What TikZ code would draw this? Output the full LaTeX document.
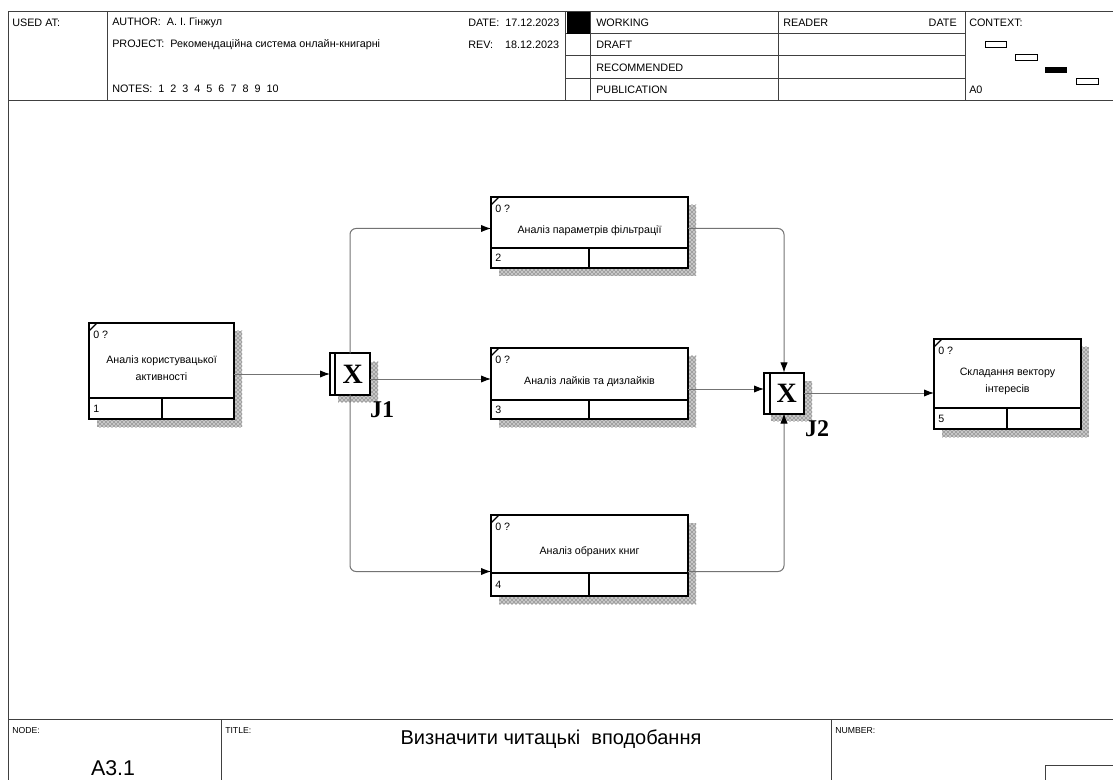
\documentclass[tikz,border=0pt]{standalone}
\usepackage{fontspec}
\setmainfont{Liberation Sans}
\newfontfamily\jfont{Liberation Serif}
\usetikzlibrary{arrows.meta,patterns,calc}

% one IDEF0 activity: name, x0, y0, x1, y1, row line, column line, number, text
\newcommand{\idefbox}[9]{%
  \fill[shade] (#2+8,#3+8) rectangle (#4+8,#5+8);
  \node[actbox,anchor=north west,minimum width={(#4-#2)*0.75pt},minimum height={(#5-#3)*0.75pt}] (#1) at (#2,#3) {};
  \draw[actline] (#2,#6) -- (#4,#6) (#7,#6) -- (#7,#5);
  \draw[line width=0.9pt] (#2,#3+8) -- (#2+8,#3);
  \node[small,anchor=west] (#1-c) at (#2+4,#3+12) {0 ?};
  \node[small,anchor=west] (#1-n) at (#2+4,{(#6+#5)/2}) {#8};
  \node[acttext] (#1-t) at ({(#2+#4)/2},{(#3+#6)/2+8}) {#9};
}

\begin{document}
\begin{tikzpicture}[x=0.75pt,y=-0.75pt,
  frame/.style={draw=black!75,line width=0.75pt},
  hdr/.style={font=\fontsize{8.1}{9.6}\selectfont,inner sep=0pt,anchor=west},
  tiny/.style={font=\fontsize{6.5}{7.5}\selectfont,inner sep=0pt,anchor=west},
  actbox/.style={draw,fill=white,line width=1.5pt,inner sep=0pt,outer sep=0pt},
  actline/.style={line width=1.5pt},
  small/.style={font=\fontsize{8}{9}\selectfont,inner sep=0pt},
  acttext/.style={font=\fontsize{8}{12.5}\selectfont,align=center,inner sep=0pt},
  shade/.style={preaction={fill=black!22},pattern=crosshatch dots,pattern color=black!85},
  junc/.style={draw,fill=white,line width=1.5pt,minimum width=30pt,minimum height=30.75pt,inner sep=0pt,outer sep=0pt,font=\jfont\bfseries\fontsize{21}{21}\selectfont},
  jlabel/.style={font=\jfont\bfseries\fontsize{18}{18}\selectfont,inner sep=0pt},
  flow/.style={draw=black!55,line width=0.75pt,rounded corners=4.5pt,-{Latex[black,length=7.5pt,width=5.5pt]}}
]
\useasboundingbox (0,0) rectangle (1113,780);

% header
\draw[frame] (8,780) -- (8,12) -- (1113,12);
\draw[frame] (8,101) -- (1113,101);
\draw[frame] (107,12) -- (107,101) (565,12) -- (565,101) (590,12) -- (590,101)
  (778,12) -- (778,101) (965,12) -- (965,101);
\draw[frame] (565,34) -- (965,34) (565,56) -- (965,56) (565,79) -- (965,79);
\fill (567,12) rectangle (590,34);
\node[hdr] (used) at (12,23) {USED AT:};
\node[hdr] (author) at (112,23) {AUTHOR:\ \ А. І. Гінжул};
\node[hdr] (project) at (112,45) {PROJECT:\ \ Рекомендаційна система онлайн-книгарні};
\node[hdr] (notes) at (112,89) {NOTES:\ \ 1\ \ 2\ \ 3\ \ 4\ \ 5\ \ 6\ \ 7\ \ 8\ \ 9\ \ 10};
\node[hdr] (date) at (468,23) {DATE:\ \ 17.12.2023};
\node[hdr] (rev) at (468,45) {REV:\ \ \ \ 18.12.2023};
\node[hdr] (working) at (596,23) {WORKING};
\node[hdr] (draft) at (596,45) {DRAFT};
\node[hdr] (recom) at (596,68) {RECOMMENDED};
\node[hdr] (publ) at (596,90) {PUBLICATION};
\node[hdr] (reader) at (783,23) {READER};
\node[hdr,anchor=east] (rdate) at (957,23) {DATE};
\node[hdr] (context) at (969,23) {CONTEXT:};
\node[hdr] (ctxnode) at (969,90) {A0};
\draw[line width=0.75pt] (985,42) rectangle (1006,48) (1015,55) rectangle (1037,61)
  (1076,79) rectangle (1098,85);
\fill (1045,67) rectangle (1067,73);

% activities
\idefbox{a1}{89}{323}{234}{419}{398}{162}{1}{Аналіз користувацької\\активності}
\idefbox{a2}{491}{197}{688}{268}{248}{589}{2}{Аналіз параметрів фільтрації}
\idefbox{a3}{491}{348}{688}{419}{400}{589}{3}{Аналіз лайків та дизлайків}
\idefbox{a4}{491}{515}{688}{596}{573}{589}{4}{Аналіз обраних книг}
\idefbox{a5}{934}{339}{1081}{429}{408}{1007}{5}{Складання вектору\\інтересів}

% junctions
\fill[shade] (338,362) rectangle (378,402);
\node[junc] (j1) at (350,374) {\hspace{4pt}X};
\draw[actline] ($(j1.north west)+(5,0)$) -- ($(j1.south west)+(5,0)$);
\node[jlabel] (j1l) at (382,410) {J1};
\fill[shade] (771,381) rectangle (812,421);
\node[junc] (j2) at (784,393) {\hspace{4pt}X};
\draw[actline] ($(j2.north west)+(6,0)$) -- ($(j2.south west)+(6,0)$);
\node[jlabel] (j2l) at (817,429) {J2};

% arrows
\draw[flow] (a1.east |- j1.west) -- (j1.west);
\draw[flow] ($(j1.east)+(0,5)$) coordinate (j1o) -- (j1o -| a3.west);
\draw[flow] (j1.north) -- ($(j1.north |- a2.west)+(0,-4)$) -- ($(a2.west)+(0,-4)$);
\draw[flow] (j1.south) -- ($(j1.south |- a4.west)+(0,16)$) -- ($(a4.west)+(0,16)$);
\draw[flow] ($(a2.east)+(0,-4)$) -- ($(j2.north |- a2.east)+(0,-4)$) -- (j2.north);
\draw[flow] ($(j2.west)+(0,-4)$) coordinate (j2i) ++(0,0) (j2i -| a3.east) -- (j2i);
\draw[flow] ($(a4.east)+(0,16)$) -- ($(j2.south |- a4.east)+(0,16)$) -- (j2.south);
\draw[flow] (j2.east) -- (j2.east -| a5.west);

% footer
\draw[frame] (8,719) -- (1113,719);
\draw[frame] (221,719) -- (221,780) (831,719) -- (831,780);
\draw[frame] (1045,780) -- (1045,765) -- (1113,765);
\node[tiny] (nodelbl) at (12,731) {NODE:};
\node[font=\fontsize{16}{16}\selectfont,inner sep=0pt] (nodeid) at (113,768) {A3.1};
\node[tiny] (titlelbl) at (225,731) {TITLE:};
\node[font=\fontsize{15}{15}\selectfont,inner sep=0pt] (title) at (551,739) {Визначити читацькі\ \ вподобання};
\node[tiny] (numlbl) at (835,731) {NUMBER:};
\end{tikzpicture}
\end{document}
